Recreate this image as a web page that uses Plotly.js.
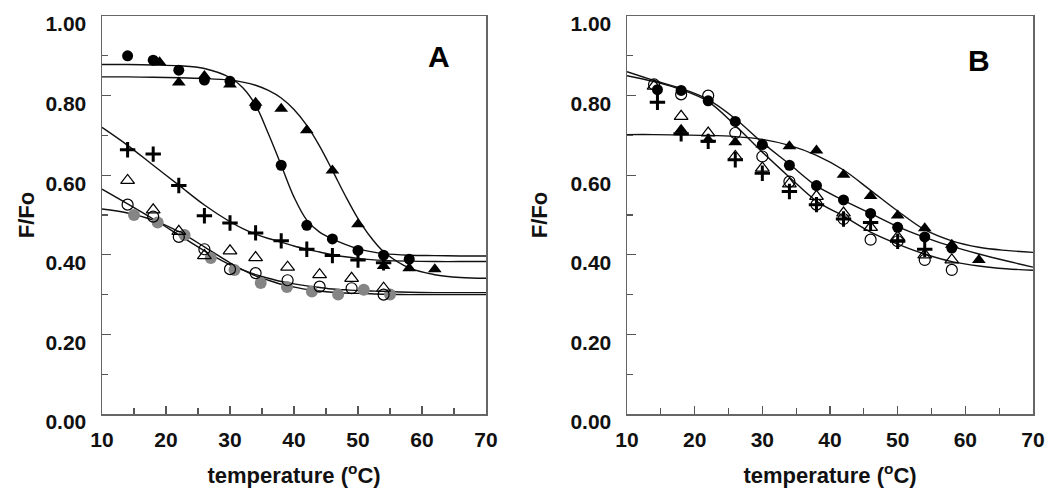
<!DOCTYPE html>
<html>
<head>
<meta charset="utf-8">
<script src="https://cdn.plot.ly/plotly-3.0.1.min.js"></script>
<style>html,body{margin:0;padding:0;background:#fff;}#chart{width:1050px;height:496px;}</style>
</head>
<body>
<div id="chart"></div>
<script>
// ---------- Panel A: measured points ----------
const aCircX = [14, 18, 22, 26, 30, 34, 38, 42, 46, 50, 54, 58];
const aCircY = [0.900, 0.889, 0.864, 0.839, 0.836, 0.775, 0.625, 0.474, 0.440, 0.411, 0.399, 0.389];
const aTriX = [19, 22, 26, 30, 34, 38, 42, 46, 50, 54, 58, 62];
const aTriY = [0.884, 0.833, 0.849, 0.828, 0.782, 0.767, 0.713, 0.612, 0.477, 0.372, 0.366, 0.364];
const aPlusX = [14, 18, 22, 26, 30, 34, 38, 42, 46, 50, 54];
const aPlusY = [0.664, 0.653, 0.574, 0.498, 0.480, 0.455, 0.435, 0.414, 0.398, 0.387, 0.380];
const aOTriX = [14, 18, 22, 26, 30, 34, 39, 44, 49, 54];
const aOTriY = [0.587, 0.513, 0.459, 0.398, 0.410, 0.393, 0.369, 0.350, 0.341, 0.316];
const aOCircX = [14, 18, 22, 26, 30, 34, 39, 44, 49, 54];
const aOCircY = [0.526, 0.496, 0.445, 0.414, 0.364, 0.354, 0.336, 0.320, 0.316, 0.300];
const aGreyX = [15, 18.7, 22.9, 27, 30.7, 34.8, 38.9, 42.8, 46.9, 50.9, 55];
const aGreyY = [0.500, 0.481, 0.450, 0.392, 0.362, 0.329, 0.319, 0.308, 0.300, 0.312, 0.300];

// ---------- Panel A: fitted curves ----------
const aFitX = [10, 14, 18, 22, 26, 30, 32, 34, 36, 38, 40, 42, 44, 46, 48, 50, 52, 54, 58, 62, 66, 70];
const aFitCirc = [0.878, 0.878, 0.877, 0.875, 0.868, 0.845, 0.820, 0.776, 0.704, 0.625, 0.545, 0.487, 0.457, 0.440, 0.426, 0.415, 0.408, 0.403, 0.399, 0.398, 0.397, 0.397];
const aFitTri = [0.847, 0.847, 0.846, 0.845, 0.843, 0.839, 0.834, 0.826, 0.813, 0.794, 0.765, 0.725, 0.673, 0.612, 0.549, 0.491, 0.444, 0.408, 0.367, 0.350, 0.343, 0.341];
const aFitPlus = [0.720, 0.675, 0.625, 0.575, 0.525, 0.483, 0.466, 0.452, 0.441, 0.432, 0.422, 0.414, 0.407, 0.400, 0.395, 0.391, 0.388, 0.386, 0.384, 0.383, 0.383, 0.383];
const aFitOCirc = [0.565, 0.528, 0.490, 0.450, 0.410, 0.375, 0.362, 0.350, 0.341, 0.333, 0.327, 0.322, 0.318, 0.314, 0.312, 0.310, 0.309, 0.308, 0.306, 0.305, 0.305, 0.305];
const aFitGrey = [0.515, 0.505, 0.487, 0.458, 0.420, 0.380, 0.362, 0.347, 0.336, 0.326, 0.319, 0.313, 0.309, 0.306, 0.304, 0.303, 0.302, 0.301, 0.300, 0.300, 0.300, 0.300];

// ---------- Panel B: measured points ----------
const bCircX = [14.5, 18, 22, 26, 30, 34, 38, 42, 46, 50, 54, 58];
const bCircY = [0.815, 0.813, 0.787, 0.735, 0.677, 0.625, 0.574, 0.538, 0.504, 0.469, 0.445, 0.417];
const bTriX = [18, 22, 26, 30, 34, 38, 42, 46, 50, 54, 58, 62];
const bTriY = [0.714, 0.689, 0.683, 0.677, 0.673, 0.662, 0.601, 0.548, 0.499, 0.467, 0.425, 0.387];
const bOCircX = [14, 18, 22, 26, 30, 34, 38, 42, 46, 50, 54, 58];
const bOCircY = [0.828, 0.803, 0.800, 0.706, 0.647, 0.584, 0.526, 0.490, 0.438, 0.434, 0.387, 0.362];
const bPlusX = [14.5, 18, 22, 26, 30, 34, 38, 42, 46, 50, 54];
const bPlusY = [0.783, 0.704, 0.685, 0.639, 0.605, 0.559, 0.526, 0.490, 0.481, 0.434, 0.414];
const bOTriX = [14, 18, 22, 26, 30, 34, 38, 42, 46, 50, 54, 58];
const bOTriY = [0.824, 0.748, 0.706, 0.647, 0.618, 0.578, 0.547, 0.505, 0.469, 0.445, 0.400, 0.387];

// ---------- Panel B: fitted curves ----------
const bFitX = [10, 14, 18, 22, 26, 30, 34, 38, 42, 46, 50, 54, 58, 62, 66, 70];
const bFitTri = [0.702, 0.702, 0.701, 0.700, 0.697, 0.690, 0.675, 0.650, 0.613, 0.562, 0.510, 0.463, 0.435, 0.419, 0.411, 0.406];
const bFitCirc = [0.860, 0.838, 0.818, 0.790, 0.742, 0.682, 0.628, 0.573, 0.537, 0.504, 0.471, 0.444, 0.421, 0.402, 0.385, 0.369];
const bFitOCirc = [0.850, 0.835, 0.815, 0.785, 0.725, 0.658, 0.595, 0.535, 0.497, 0.457, 0.427, 0.402, 0.383, 0.372, 0.365, 0.361];

const yTickVals = [0, 0.2, 0.4, 0.6, 0.8, 1.0];
const yTickText = ['0.00', '0.20', '0.40', '0.60', '0.80', '1.00'];

const FONT = 'Liberation Sans, Arial, Helvetica, sans-serif';

function curve(x, y, xa, ya) {
  return {x: x, y: y, xaxis: xa, yaxis: ya, type: 'scatter', mode: 'lines',
    line: {color: '#111', width: 1.4, shape: 'spline', smoothing: 1}, hoverinfo: 'skip'};
}
function pts(x, y, xa, ya, kind) {
  const m = {size: 11, color: '#000', symbol: 'circle', line: {width: 0, color: '#000'}};
  if (kind === 'circle') { m.size = 11; }
  if (kind === 'tri') { m.symbol = 'triangle-up'; m.size = 12; }
  if (kind === 'plus') { m.symbol = 'cross-thin'; m.size = 11; m.line = {width: 3, color: '#000'}; }
  if (kind === 'ocirc') { m.symbol = 'circle-open'; m.size = 11; m.color = '#000'; m.line = {width: 1.2, color: '#000'}; }
  if (kind === 'otri') { m.symbol = 'triangle-up-open'; m.size = 12; m.color = '#000'; m.line = {width: 1.2, color: '#000'}; }
  if (kind === 'grey') { m.size = 12; m.color = '#858585'; }
  return {x: x, y: y, xaxis: xa, yaxis: ya, type: 'scatter', mode: 'markers', marker: m, cliponaxis: false};
}

const data = [
  curve(aFitX, aFitCirc, 'x', 'y'),
  curve(aFitX, aFitTri, 'x', 'y'),
  curve(aFitX, aFitPlus, 'x', 'y'),
  curve(aFitX, aFitOCirc, 'x', 'y'),
  curve(aFitX, aFitGrey, 'x', 'y'),
  pts(aGreyX, aGreyY, 'x', 'y', 'grey'),
  pts(aOTriX, aOTriY, 'x', 'y', 'otri'),
  pts(aOCircX, aOCircY, 'x', 'y', 'ocirc'),
  pts(aPlusX, aPlusY, 'x', 'y', 'plus'),
  pts(aTriX, aTriY, 'x', 'y', 'tri'),
  pts(aCircX, aCircY, 'x', 'y', 'circle'),

  curve(bFitX, bFitTri, 'x2', 'y2'),
  curve(bFitX, bFitCirc, 'x2', 'y2'),
  curve(bFitX, bFitOCirc, 'x2', 'y2'),
  pts(bOTriX, bOTriY, 'x2', 'y2', 'otri'),
  pts(bOCircX, bOCircY, 'x2', 'y2', 'ocirc'),
  pts(bTriX, bTriY, 'x2', 'y2', 'tri'),
  pts(bCircX, bCircY, 'x2', 'y2', 'circle'),
  pts(bPlusX, bPlusY, 'x2', 'y2', 'plus')
];

const tickFont = {family: FONT, size: 21, color: '#111', weight: 'bold'};
const titleFont = {family: FONT, size: 22, color: '#111', weight: 'bold'};
function xax(domain, anchor) {
  return {domain: domain, anchor: anchor, range: [10, 70], dtick: 10, tick0: 10,
    ticks: 'inside', ticklen: 8, tickwidth: 1.3, tickcolor: '#555',
    showline: true, linecolor: '#666', linewidth: 1.5, mirror: true,
    showgrid: false, zeroline: false, tickfont: tickFont, ticklabelstandoff: 6,
    minor: {ticks: 'inside', dtick: 5, ticklen: 6, tickwidth: 1.3, tickcolor: '#555', showgrid: false},
    title: {text: 'temperature (<sup>o</sup>C)', font: titleFont, standoff: 18}};
}
function yax(anchor, standoff) {
  return {domain: [0, 1], anchor: anchor, range: [0, 1.0], tickmode: 'array',
    tickvals: yTickVals, ticktext: yTickText,
    ticks: 'inside', ticklen: 9, tickwidth: 1.3, tickcolor: '#555',
    showline: true, linecolor: '#666', linewidth: 1.5, mirror: true,
    showgrid: false, zeroline: false, tickfont: tickFont, ticklabelstandoff: 10, ticklabelshift: 8,
    ticklabeloverflow: 'allow',
    minor: {ticks: 'inside', dtick: 0.1, tick0: 0, ticklen: 6, tickwidth: 1.3, tickcolor: '#555', showgrid: false},
    title: {text: 'F/Fo', font: titleFont, standoff: standoff}};
}

const layout = {
  width: 1050, height: 496,
  margin: {l: 0, r: 0, t: 16, b: 82, pad: 0},
  paper_bgcolor: '#fff', plot_bgcolor: '#fff',
  showlegend: false,
  xaxis: xax([102 / 1050, 486 / 1050], 'y'),
  yaxis: yax('x', 4),
  xaxis2: xax([627 / 1050, 1033 / 1050], 'y2'),
  yaxis2: yax('x2', 16),
  annotations: [
    {text: 'A', xref: 'paper', yref: 'paper', x: 439 / 1050, y: (414 - 56) / 398, showarrow: false,
     xanchor: 'center', yanchor: 'middle', font: {family: FONT, size: 30, color: '#000', weight: 'bold'}},
    {text: 'B', xref: 'paper', yref: 'paper', x: 979 / 1050, y: (414 - 60) / 398, showarrow: false,
     xanchor: 'center', yanchor: 'middle', font: {family: FONT, size: 30, color: '#000', weight: 'bold'}}
  ]
};

Plotly.newPlot('chart', data, layout, {staticPlot: true, displayModeBar: false});
</script>
</body>
</html>
